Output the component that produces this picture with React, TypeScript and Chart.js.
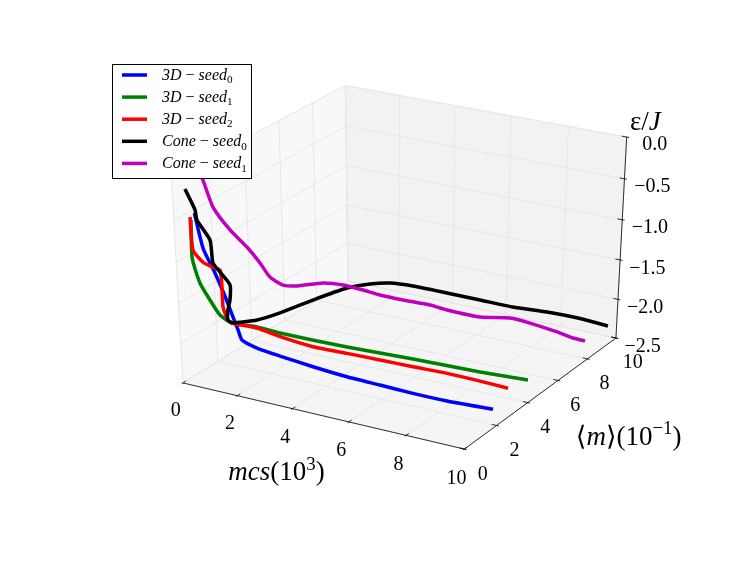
import { useEffect, useRef } from "react";
import { Chart, registerables } from "chart.js";
import type { Plugin } from "chart.js";

Chart.register(...registerables);

const WIDTH = 747;
const HEIGHT = 561;

// axis ranges: mcs (10^3), <m> (10^-1), eps/J
const X_RANGE = [0, 10];
const Y_RANGE = [0, 10];
const Z_RANGE = [-2.5, 0];

const X_TICKS = [0, 2, 4, 6, 8, 10];
const Y_TICKS = [0, 2, 4, 6, 8, 10];
const Z_TICKS = [-2.5, -2.0, -1.5, -1.0, -0.5, 0.0];
const X_TICK_LABELS = ["0", "2", "4", "6", "8", "10"];
const Y_TICK_LABELS = ["0", "2", "4", "6", "8", "10"];
const Z_TICK_LABELS = ["\u22122.5", "\u22122.0", "\u22121.5", "\u22121.0", "\u22120.5", "0.0"];

// 3D - seed 0
const MCS_3D_SEED0 = [0, 0.2, 0.4, 0.55, 0.7, 0.8, 0.9, 1.44, 2.28, 3.47, 4.71, 5.9, 7.1, 8.33, 10];
const M_3D_SEED0 = [1.1, 1.19, 1.43, 1.7, 1.92, 2.02, 2.06, 2.07, 2.07, 2.09, 2.06, 2.04, 1.98, 1.91, 1.75];
const E_3D_SEED0 = [-0.545, -0.97, -1.26, -1.567, -1.876, -2.04, -2.164, -2.225, -2.261, -2.305, -2.329, -2.335, -2.333, -2.318, -2.261];

// 3D - seed 1
const MCS_3D_SEED1 = [0, 0.03, 0.2, 0.35, 0.5, 0.7, 1.49, 2.21, 4.31, 6.39, 8.49, 10];
const M_3D_SEED1 = [0.905, 0.82, 0.92, 1.2, 1.49, 1.84, 2.04, 2.22, 2.75, 3.22, 3.68, 3.97];
const E_3D_SEED1 = [-0.604, -1.05, -1.354, -1.589, -1.803, -1.934, -1.95, -1.995, -2.08, -2.131, -2.19, -2.21];

// 3D - seed 2
const MCS_3D_SEED2 = [0, 0.1, 0.2, 0.3, 0.35, 0.4, 0.5, 0.6, 0.7, 1.54, 2.32, 3.43, 4.57, 5.69, 6.8, 7.94, 9.06, 10];
const M_3D_SEED2 = [0.86, 0.78, 1.13, 1.47, 1.83, 1.82, 1.68, 1.77, 1.84, 1.96, 2.05, 2.18, 2.31, 2.41, 2.5, 2.59, 2.64, 2.68];
const E_3D_SEED2 = [-0.563, -0.942, -1.124, -1.22, -1.3, -1.504, -1.727, -1.895, -1.934, -1.949, -2.009, -2.067, -2.079, -2.087, -2.096, -2.1, -2.113, -2.132];

// Cone - seed 0
const MCS_CONE_SEED0 = [0, 0.1, 0.15, 0.25, 0.3, 0.35, 0.45, 0.5, 0.55, 0.6, 0.7, 1.0, 1.3, 1.7, 2.2, 2.6, 3.0, 3.6, 4.72, 5.8, 6.88, 8.0, 9.08, 10];
const M_CONE_SEED0 = [0.67, 1.0, 1.0, 1.505, 1.535, 1.82, 2.2, 2.085, 1.87, 1.77, 1.86, 2.81, 3.69, 5.02, 6.29, 7.06, 7.64, 8.08, 8.32, 8.56, 8.79, 9.0, 9.05, 9.37];
const E_CONE_SEED0 = [-0.21, -0.489, -0.606, -0.9, -1.18, -1.322, -1.524, -1.693, -1.786, -1.895, -1.935, -2.002, -2.005, -1.984, -1.957, -1.974, -2.006, -2.057, -2.095, -2.136, -2.176, -2.183, -2.185, -2.26];

// Cone - seed 1
const MCS_CONE_SEED1 = [0, 0.1, 0.25, 0.45, 0.7, 0.9, 1.1, 1.4, 1.7, 2.45, 3.03, 3.6, 4.09, 4.75, 5.53, 6.02, 6.97, 7.84, 8.41, 9.19, 9.65, 10];
const M_CONE_SEED1 = [1.3, 1.5, 1.75, 2.33, 2.85, 3.25, 3.48, 3.75, 4.1, 4.43, 4.68, 4.94, 5.15, 5.45, 5.78, 6.0, 6.42, 6.78, 7.05, 7.41, 7.62, 7.77];
const E_CONE_SEED1 = [0.0, -0.194, -0.533, -0.864, -1.118, -1.35, -1.54, -1.653, -1.687, -1.636, -1.65, -1.705, -1.758, -1.81, -1.859, -1.913, -1.986, -1.98, -2.036, -2.137, -2.207, -2.238];

const SERIES = [
  { kind: "3D", seed: "0", color: "#0000ff", mcs: MCS_3D_SEED0, m: M_3D_SEED0, e: E_3D_SEED0 },
  { kind: "3D", seed: "1", color: "#008000", mcs: MCS_3D_SEED1, m: M_3D_SEED1, e: E_3D_SEED1 },
  { kind: "3D", seed: "2", color: "#ff0000", mcs: MCS_3D_SEED2, m: M_3D_SEED2, e: E_3D_SEED2 },
  { kind: "Cone", seed: "0", color: "#000000", mcs: MCS_CONE_SEED0, m: M_CONE_SEED0, e: E_CONE_SEED0 },
  { kind: "Cone", seed: "1", color: "#bf00bf", mcs: MCS_CONE_SEED1, m: M_CONE_SEED1, e: E_CONE_SEED1 },
];

// view like matplotlib's default Axes3D (elev 30, azim -60, dist 10)
const ELEV = 30;
const AZIM = -60;
const DIST = 10;
const SCALE_X = 3248;
const SCALE_Y = 2344;
const CENTER_X = 402.8;
const CENTER_Y = 261.1;

const SERIF = '"Liberation Serif", "DejaVu Serif", serif';

function project(x: number, y: number, z: number): [number, number] {
  const qx = (x - X_RANGE[0]) / (X_RANGE[1] - X_RANGE[0]) - 0.5;
  const qy = (y - Y_RANGE[0]) / (Y_RANGE[1] - Y_RANGE[0]) - 0.5;
  const qz = (z - Z_RANGE[0]) / (Z_RANGE[1] - Z_RANGE[0]) - 0.5;
  const e = (ELEV * Math.PI) / 180;
  const a = (AZIM * Math.PI) / 180;
  const n = [Math.cos(a) * Math.cos(e), Math.sin(a) * Math.cos(e), Math.sin(e)];
  const u = [-Math.sin(a), Math.cos(a), 0];
  const v = [-Math.sin(e) * Math.cos(a), -Math.sin(e) * Math.sin(a), Math.cos(e)];
  const w = DIST - (n[0] * qx + n[1] * qy + n[2] * qz);
  const px = (u[0] * qx + u[1] * qy + u[2] * qz) / w;
  const py = (v[0] * qx + v[1] * qy + v[2] * qz) / w;
  return [CENTER_X + SCALE_X * px, CENTER_Y - SCALE_Y * py];
}

type Piece = { t: string; it?: boolean; sub?: boolean; sup?: boolean };

function pieceFont(p: Piece, size: number) {
  const s = p.sub || p.sup ? size * 0.7 : size;
  return `${p.it ? "italic " : ""}${s}px ${SERIF}`;
}

function drawMath(ctx: CanvasRenderingContext2D, pieces: Piece[], x: number, y: number, size: number, align: "left" | "center") {
  ctx.save();
  ctx.textBaseline = "alphabetic";
  ctx.textAlign = "left";
  ctx.fillStyle = "#000";
  const widths = pieces.map((p) => {
    ctx.font = pieceFont(p, size);
    return ctx.measureText(p.t).width;
  });
  const total = widths.reduce((s, w) => s + w, 0);
  let cx = align === "center" ? x - total / 2 : x;
  pieces.forEach((p, i) => {
    ctx.font = pieceFont(p, size);
    const dy = p.sub ? size * 0.2 : p.sup ? -size * 0.4 : 0;
    ctx.fillText(p.t, cx, y + dy);
    cx += widths[i];
  });
  ctx.restore();
}

const axes3dPlugin: Plugin<"scatter"> = {
  id: "axes3d",
  beforeDatasetsDraw(chart) {
    const { ctx } = chart;
    const xs = chart.scales.x;
    const ys = chart.scales.y;
    const P = (x: number, y: number, z: number): [number, number] => {
      const [a, b] = project(x, y, z);
      return [xs.getPixelForValue(a), ys.getPixelForValue(b)];
    };
    const [x0, x1] = X_RANGE;
    const [y0, y1] = Y_RANGE;
    const [z0, z1] = Z_RANGE;
    const dx = x1 - x0;
    const dy = y1 - y0;
    const dz = z1 - z0;

    const path = (pts: [number, number][], close: boolean) => {
      ctx.beginPath();
      pts.forEach(([a, b], i) => (i === 0 ? ctx.moveTo(a, b) : ctx.lineTo(a, b)));
      if (close) ctx.closePath();
    };

    ctx.save();
    // panes
    const panes: [[number, number][], string][] = [
      [[P(x0, y0, z0), P(x0, y1, z0), P(x0, y1, z1), P(x0, y0, z1)], "rgba(242,242,242,0.5)"],
      [[P(x0, y1, z0), P(x1, y1, z0), P(x1, y1, z1), P(x0, y1, z1)], "rgba(230,230,230,0.5)"],
      [[P(x0, y0, z0), P(x1, y0, z0), P(x1, y1, z0), P(x0, y1, z0)], "rgba(236,236,236,0.5)"],
    ];
    panes.forEach(([pts, color]) => {
      path(pts, true);
      ctx.fillStyle = color;
      ctx.fill();
      ctx.strokeStyle = color;
      ctx.lineWidth = 1;
      ctx.stroke();
    });

    // grid
    ctx.strokeStyle = "#e6e6e6";
    ctx.lineWidth = 1;
    X_TICKS.forEach((t) => {
      path([P(t, y0, z0), P(t, y1, z0), P(t, y1, z1)], false);
      ctx.stroke();
    });
    Y_TICKS.forEach((t) => {
      path([P(x1, t, z0), P(x0, t, z0), P(x0, t, z1)], false);
      ctx.stroke();
    });
    Z_TICKS.forEach((t) => {
      path([P(x0, y0, t), P(x0, y1, t), P(x1, y1, t)], false);
      ctx.stroke();
    });

    // axis lines
    ctx.strokeStyle = "#000";
    ctx.lineWidth = 0.8;
    path([P(x0, y0, z0), P(x1, y0, z0)], false);
    ctx.stroke();
    path([P(x1, y0, z0), P(x1, y1, z0)], false);
    ctx.stroke();
    path([P(x1, y1, z0), P(x1, y1, z1)], false);
    ctx.stroke();

    // ticks
    const outF = 0.1 / 12;
    const inF = 0.2 / 12;
    X_TICKS.forEach((t) => {
      path([P(t, y0 - outF * dy, z0), P(t, y0 + inF * dy, z0)], false);
      ctx.stroke();
    });
    Y_TICKS.forEach((t) => {
      path([P(x1 + outF * dx, t, z0), P(x1 - inF * dx, t, z0)], false);
      ctx.stroke();
    });
    Z_TICKS.forEach((t) => {
      path([P(x1 + outF * dx, y1, t), P(x1 - inF * dx, y1, t)], false);
      ctx.stroke();
    });

    // tick labels
    ctx.fillStyle = "#000";
    ctx.font = `20px ${SERIF}`;
    ctx.textAlign = "center";
    ctx.textBaseline = "middle";
    X_TICKS.forEach((t, i) => {
      const [a, b] = P(t, y0 - 0.052 * dy, z0 - 0.095 * dz);
      ctx.fillText(X_TICK_LABELS[i], a + 1, b + 4);
    });
    Y_TICKS.forEach((t, i) => {
      const [a, b] = P(x1 + 0.06 * dx, t, z0 - 0.094 * dz);
      ctx.fillText(Y_TICK_LABELS[i], a + 1, b + 3);
    });
    Z_TICKS.forEach((t, i) => {
      const [a, b] = P(x1 + 0.092 * dx, y1, t);
      ctx.fillText(Z_TICK_LABELS[i], a + 1, b + 3);
    });

    // axis labels
    const size = 27;
    const [mx, my] = P(x0 + 0.36 * dx, y0 - 0.052 * dy, z0 - 0.31 * dz);
    drawMath(ctx, [{ t: "mcs", it: true }, { t: "(10" }, { t: "3", sup: true }, { t: ")" }], mx + 2, my + size * 0.3, size, "center");
    const [gx, gy] = P(x0 + 1.29 * dx, y0 + 0.5 * dy, z0 - 0.125 * dz);
    drawMath(ctx, [{ t: "\u27e8" }, { t: "m", it: true }, { t: "\u27e9" }, { t: "(10" }, { t: "\u22121", sup: true }, { t: ")" }], gx + 3, gy + size * 0.3 + 2, size, "center");
    const [ex, ey] = P(x0 + 1.06 * dx, y1, z0 + 1.085 * dz);
    drawMath(ctx, [{ t: "\u03b5" }, { t: "/" }, { t: "J", it: true }], ex, ey + size * 0.3, size, "center");
    ctx.restore();
  },
};

const LEGEND_BOX = { left: 112, top: 64, width: 139, height: 114 };

const legendPlugin: Plugin<"scatter"> = {
  id: "legend3d",
  afterDraw(chart) {
    const { ctx } = chart;
    const { left, top, width, height } = LEGEND_BOX;
    ctx.save();
    ctx.fillStyle = "#fff";
    ctx.fillRect(left, top, width, height);
    ctx.strokeStyle = "#000";
    ctx.lineWidth = 1;
    ctx.strokeRect(left + 0.5, top + 0.5, width, height);
    SERIES.forEach((s, i) => {
      const y = top + 11 + i * 22.1;
      ctx.strokeStyle = s.color;
      ctx.lineWidth = 3.5;
      ctx.beginPath();
      ctx.moveTo(left + 10, y);
      ctx.lineTo(left + 35, y);
      ctx.stroke();
      drawMath(
        ctx,
        [{ t: s.kind, it: true }, { t: " \u2212 " }, { t: "seed", it: true }, { t: s.seed, sub: true }],
        left + 50,
        y + 5,
        16,
        "left"
      );
    });
    ctx.restore();
  },
};

export default function App() {
  const canvasRef = useRef<HTMLCanvasElement>(null);
  const chartRef = useRef<Chart<"scatter"> | null>(null);

  useEffect(() => {
    if (!canvasRef.current) return;
    if (chartRef.current) chartRef.current.destroy();

    const datasets = SERIES.map((s, idx) => ({
      label: `${s.kind}-seed${s.seed}`,
      data: s.mcs.map((t, i) => {
        const [px, py] = project(t, s.m[i], s.e[i]);
        return { x: px, y: py };
      }),
      showLine: true,
      borderColor: s.color,
      backgroundColor: s.color,
      borderWidth: 3.5,
      borderJoinStyle: "round" as const,
      pointRadius: 0,
      pointHoverRadius: 0,
      tension: 0.2,
      order: SERIES.length - idx,
    }));

    chartRef.current = new Chart(canvasRef.current, {
      type: "scatter",
      data: { datasets },
      options: {
        responsive: false,
        animation: false,
        events: [],
        layout: { padding: 0 },
        plugins: {
          legend: { display: false },
          tooltip: { enabled: false },
        },
        scales: {
          x: { type: "linear", display: false, min: 0, max: WIDTH },
          y: { type: "linear", display: false, min: 0, max: HEIGHT, reverse: true },
        },
      },
      plugins: [axes3dPlugin, legendPlugin],
    });

    return () => {
      if (chartRef.current) {
        chartRef.current.destroy();
        chartRef.current = null;
      }
    };
  }, []);

  return (
    <div style={{ position: "absolute", left: 0, top: 0, width: WIDTH, height: HEIGHT, background: "#fff" }}>
      <canvas ref={canvasRef} width={WIDTH} height={HEIGHT} style={{ display: "block" }} />
    </div>
  );
}
